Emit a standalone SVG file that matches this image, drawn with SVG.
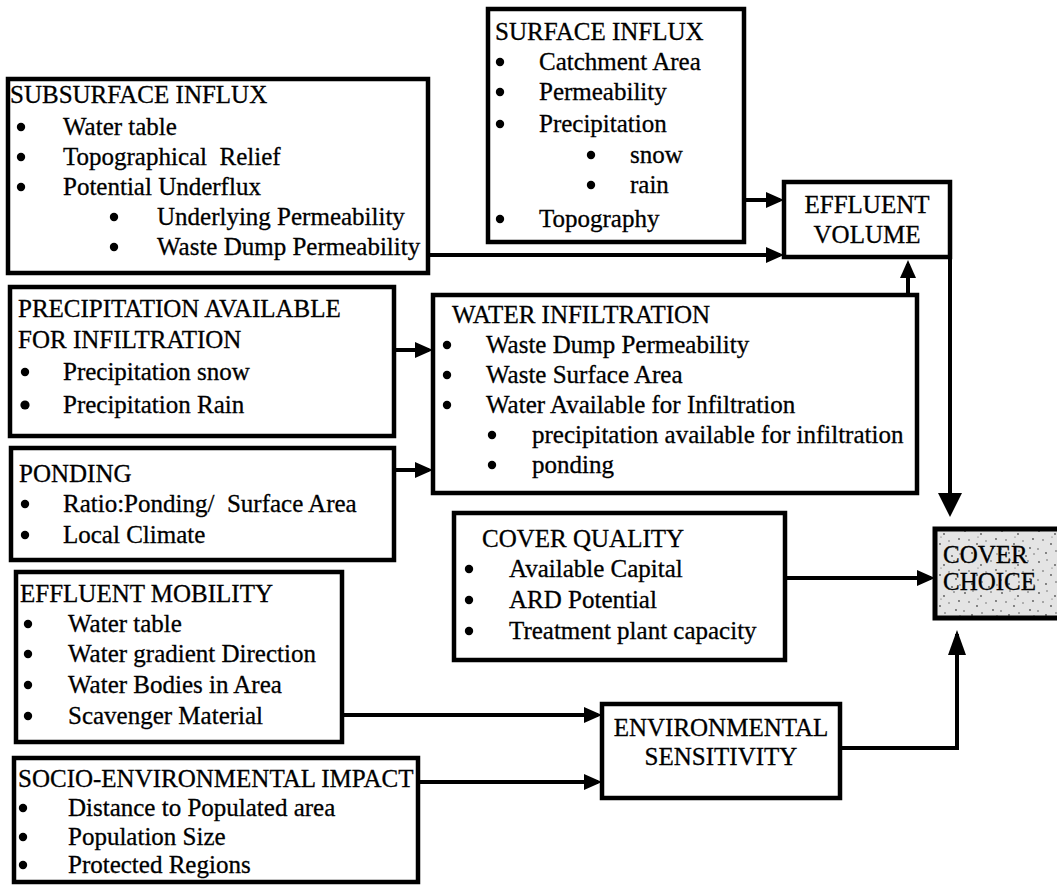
<svg xmlns="http://www.w3.org/2000/svg" width="1057" height="890" viewBox="0 0 1057 890">
<style>
.box{fill:#fff;stroke:#000;stroke-width:4.5}
.t{font-family:"Liberation Serif","Times New Roman",serif;font-size:25px;fill:#000;stroke:#000;stroke-width:0.3;white-space:pre}
.c{text-anchor:middle}
.d{fill:#000}
.cn{fill:none;stroke:#000;stroke-width:4}
</style>
<defs>
<marker id="ah" markerUnits="userSpaceOnUse" viewBox="0 0 18 16" markerWidth="18" markerHeight="16" refX="14" refY="8" orient="auto"><path d="M0,0 L18,8 L0,16 z" fill="#000"/></marker>
<marker id="ahBig" markerUnits="userSpaceOnUse" viewBox="0 0 24 24" markerWidth="24" markerHeight="24" refX="20" refY="12" orient="auto"><path d="M0,0 L24,12 L0,24 z" fill="#000"/></marker>
<marker id="ahMed" markerUnits="userSpaceOnUse" viewBox="0 0 25 18" markerWidth="25" markerHeight="18" refX="21" refY="9" orient="auto"><path d="M0,0 L25,9 L0,18 z" fill="#000"/></marker>
<pattern id="speck" patternUnits="userSpaceOnUse" width="37" height="31">
<rect width="37" height="31" fill="#e4e4e4"/>
<g fill="#555">
<circle cx="3" cy="4" r="0.9"/><circle cx="11" cy="2" r="0.7"/><circle cx="19" cy="7" r="0.9"/><circle cx="29" cy="3" r="0.8"/><circle cx="34" cy="12" r="0.9"/>
<circle cx="7" cy="13" r="0.8"/><circle cx="15" cy="17" r="0.9"/><circle cx="24" cy="14" r="0.7"/><circle cx="31" cy="21" r="0.9"/><circle cx="2" cy="22" r="0.8"/>
<circle cx="10" cy="26" r="0.9"/><circle cx="20" cy="24" r="0.8"/><circle cx="27" cy="29" r="0.9"/><circle cx="35" cy="27" r="0.7"/><circle cx="16" cy="10" r="0.6"/>
</g>
</pattern>
</defs>

<g id="connectors">
<path class="cn" d="M744,200 H780" marker-end="url(#ah)"/>
<path class="cn" d="M428,255 H780" marker-end="url(#ah)"/>
<path class="cn" d="M908,295 V264" marker-end="url(#ah)"/>
<path class="cn" d="M950,257 V513" marker-end="url(#ahBig)"/>
<path class="cn" d="M394,350 H429" marker-end="url(#ah)"/>
<path class="cn" d="M394,470 H429" marker-end="url(#ah)"/>
<path class="cn" d="M785,578 H931" marker-end="url(#ah)"/>
<path class="cn" d="M342,715 H598" marker-end="url(#ah)"/>
<path class="cn" d="M418,782 H598" marker-end="url(#ah)"/>
<path class="cn" d="M840,748 H957 V634" marker-end="url(#ahMed)"/>
</g>

<g id="subsurface-influx">
<rect class="box" x="8" y="79" width="420" height="194"/>
<text class="t" x="10" y="103">SUBSURFACE INFLUX</text>
<circle class="d" cx="21" cy="127" r="4.2"/><text class="t" x="63" y="135">Water table</text>
<circle class="d" cx="21" cy="157" r="4.2"/><text class="t" x="63" y="165" xml:space="preserve">Topographical  Relief</text>
<circle class="d" cx="21" cy="187" r="4.2"/><text class="t" x="63" y="195">Potential Underflux</text>
<circle class="d" cx="114" cy="217" r="4.2"/><text class="t" x="157" y="225">Underlying Permeability</text>
<circle class="d" cx="114" cy="247" r="4.2"/><text class="t" x="157" y="255">Waste Dump Permeability</text>
</g>

<g id="surface-influx">
<rect class="box" x="488" y="9" width="256" height="233"/>
<text class="t" x="495" y="40">SURFACE INFLUX</text>
<circle class="d" cx="500" cy="62" r="4.2"/><text class="t" x="539" y="70">Catchment Area</text>
<circle class="d" cx="500" cy="92" r="4.2"/><text class="t" x="539" y="100">Permeability</text>
<circle class="d" cx="500" cy="124" r="4.2"/><text class="t" x="539" y="132">Precipitation</text>
<circle class="d" cx="591" cy="155" r="4.2"/><text class="t" x="630" y="163">snow</text>
<circle class="d" cx="591" cy="185" r="4.2"/><text class="t" x="630" y="193">rain</text>
<circle class="d" cx="500" cy="219" r="4.2"/><text class="t" x="539" y="227">Topography</text>
</g>

<g id="effluent-volume">
<rect class="box" x="784" y="182" width="166" height="75"/>
<text class="t c" x="867" y="213">EFFLUENT</text>
<text class="t c" x="867" y="243">VOLUME</text>
</g>

<g id="precipitation-available">
<rect class="box" x="10" y="287" width="384" height="149"/>
<text class="t" x="18" y="317">PRECIPITATION AVAILABLE</text>
<text class="t" x="18" y="348">FOR INFILTRATION</text>
<circle class="d" cx="25" cy="372" r="4.2"/><text class="t" x="63" y="380">Precipitation snow</text>
<circle class="d" cx="25" cy="405" r="4.6"/><text class="t" x="63" y="413">Precipitation Rain</text>
</g>

<g id="water-infiltration">
<rect class="box" x="433" y="295" width="484" height="198"/>
<text class="t" x="452" y="323">WATER INFILTRATION</text>
<circle class="d" cx="447" cy="345" r="4.2"/><text class="t" x="486" y="353">Waste Dump Permeability</text>
<circle class="d" cx="447" cy="375" r="4.2"/><text class="t" x="486" y="383">Waste Surface Area</text>
<circle class="d" cx="447" cy="405" r="4.2"/><text class="t" x="486" y="413">Water Available for Infiltration</text>
<circle class="d" cx="492" cy="435" r="4.2"/><text class="t" x="532" y="443">precipitation available for infiltration</text>
<circle class="d" cx="492" cy="465" r="4.2"/><text class="t" x="532" y="473">ponding</text>
</g>

<g id="ponding">
<rect class="box" x="11" y="448" width="383" height="112"/>
<text class="t" x="19" y="482">PONDING</text>
<circle class="d" cx="25" cy="504" r="4.2"/><text class="t" x="63" y="512" xml:space="preserve">Ratio:Ponding/  Surface Area</text>
<circle class="d" cx="25" cy="535" r="4.2"/><text class="t" x="63" y="543">Local Climate</text>
</g>

<g id="cover-quality">
<rect class="box" x="454" y="513" width="331" height="147"/>
<text class="t" x="482" y="547">COVER QUALITY</text>
<circle class="d" cx="469" cy="569" r="4.2"/><text class="t" x="509" y="577">Available Capital</text>
<circle class="d" cx="469" cy="600" r="4.2"/><text class="t" x="509" y="608">ARD Potential</text>
<circle class="d" cx="469" cy="631" r="4.2"/><text class="t" x="509" y="639">Treatment plant capacity</text>
</g>

<g id="cover-choice">
<rect x="935" y="529" width="135" height="89" fill="url(#speck)" stroke="#000" stroke-width="5"/>
<text class="t" x="943" y="563">COVER</text>
<text class="t" x="943" y="590">CHOICE</text>
</g>

<g id="effluent-mobility">
<rect class="box" x="16" y="572" width="326" height="170"/>
<text class="t" x="20" y="602">EFFLUENT MOBILITY</text>
<circle class="d" cx="28" cy="624" r="4.2"/><text class="t" x="68" y="632">Water table</text>
<circle class="d" cx="28" cy="654" r="4.2"/><text class="t" x="68" y="662">Water gradient Direction</text>
<circle class="d" cx="28" cy="685" r="4.2"/><text class="t" x="68" y="693">Water Bodies in Area</text>
<circle class="d" cx="28" cy="716" r="4.2"/><text class="t" x="68" y="724">Scavenger Material</text>
</g>

<g id="environmental-sensitivity">
<rect class="box" x="602" y="704" width="238" height="94"/>
<text class="t c" x="721" y="736">ENVIRONMENTAL</text>
<text class="t c" x="721" y="765">SENSITIVITY</text>
</g>

<g id="socio-environmental-impact">
<rect class="box" x="14" y="758" width="404" height="124"/>
<text class="t" x="18" y="787">SOCIO-ENVIRONMENTAL IMPACT</text>
<circle class="d" cx="23" cy="808" r="4.2"/><text class="t" x="68" y="816">Distance to Populated area</text>
<circle class="d" cx="23" cy="837" r="4.2"/><text class="t" x="68" y="845">Population Size</text>
<circle class="d" cx="23" cy="865" r="4.2"/><text class="t" x="68" y="873">Protected Regions</text>
</g>
</svg>
